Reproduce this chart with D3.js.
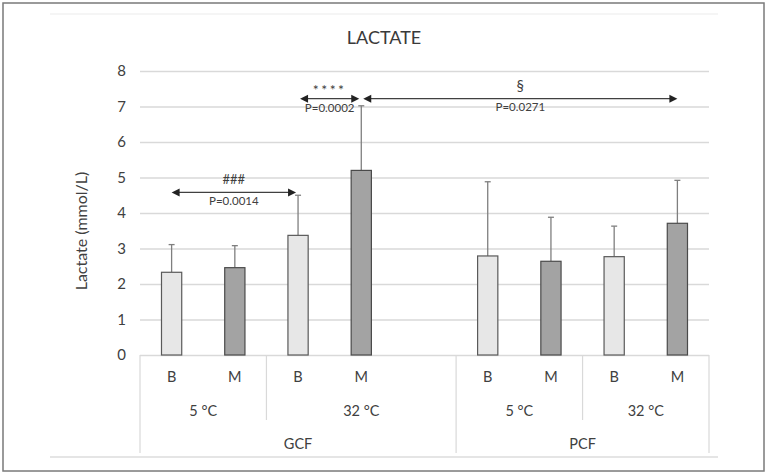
<!DOCTYPE html>
<html>
<head>
<meta charset="utf-8">
<script src="https://cdn.jsdelivr.net/npm/d3@7"></script>
<style>
  body { margin: 0; background: #fff; }
  svg { display: block; font-family: Lato, "Open Sans", sans-serif; }
</style>
</head>
<body>
<svg width="768" height="474"></svg>
<script>
// groups along the x axis (one empty slot after the GCF group)
var conditions = ["GCF", "PCF"];
var temps = ["5 °C", "32 °C"];
var samples = ["B", "M"];

// lactate means and upper SD, in bar order GCF 5B,5M,32B,32M, PCF 5B,5M,32B,32M
var means = [2.33, 2.46, 3.37, 5.20, 2.79, 2.64, 2.77, 3.71];
var sds   = [0.78, 0.62, 1.13, 1.82, 2.09, 1.24, 0.86, 1.21];

var yTicks = [0, 1, 2, 3, 4, 5, 6, 7, 8];

// significance arrows: from bar index, to bar index, height, symbol, p value
var compFrom  = [0, 2, 3];
var compTo    = [2, 3, 7];
var compLevel = [4.58, 7.22, 7.22];
var compSym   = ["###", "****", "§"];
var compP     = ["P=0.0014", "P=0.0002", "P=0.0271"];

var svg = d3.select("svg");

// build bar list + slot keys
var bars = [];
var slots = [];
conditions.forEach(function(c, ci) {
    temps.forEach(function(t) {
        samples.forEach(function(s) {
            var key = c + "|" + t + "|" + s;
            slots.push(key);
            bars.push({key: key, cond: c, temp: t, sample: s,
                       mean: means[bars.length], sd: sds[bars.length]});
        });
    });
    if (ci < conditions.length - 1) slots.push("gap" + ci);
});

var x = d3.scaleBand().domain(slots).range([140, 709]).padding(0);
var y = d3.scaleLinear().domain([0, 8]).range([355, 71]);
var bw = x.bandwidth() * 0.32;
var cx = function(k) { return x(k) + x.bandwidth() / 2; };

// outer frame and faint rules
svg.append("rect")
    .attr("x", 3).attr("y", 3).attr("width", 761).attr("height", 468)
    .attr("fill", "none").attr("stroke", "#7a7a7a").attr("stroke-width", 1.5);
svg.append("line").attr("x1", 50).attr("x2", 718).attr("y1", 14).attr("y2", 14)
    .attr("stroke", "#f2f2f2").attr("stroke-width", 1.5);
svg.append("line").attr("x1", 50).attr("x2", 718).attr("y1", 457).attr("y2", 457)
    .attr("stroke", "#dcdcdc").attr("stroke-width", 1.5);

// title
svg.append("text").attr("x", 384).attr("y", 44)
    .attr("text-anchor", "middle").attr("font-size", 18).attr("fill", "#3a3a3a")
    .text("LACTATE");

// gridlines + y axis
var yAxis = d3.axisLeft(y).tickValues(yTicks).tickSize(-(709 - 140)).tickPadding(14);
var gy = svg.append("g").attr("transform", "translate(140,0)").call(yAxis);
gy.select(".domain").remove();
gy.selectAll(".tick line").attr("stroke", "#d9d9d9").attr("stroke-width", 1.3);
gy.selectAll(".tick text").attr("font-size", 15).attr("fill", "#404040")
    .attr("font-family", "Lato, 'Open Sans', sans-serif");

svg.append("text")
    .attr("transform", "translate(87,231) rotate(-90)")
    .attr("text-anchor", "middle").attr("font-size", 16).attr("fill", "#404040")
    .text("Lactate (mmol/L)");

// error bars (upper only)
var eb = svg.append("g").selectAll("g").data(bars).enter().append("g");
eb.append("line")
    .attr("x1", d => cx(d.key)).attr("x2", d => cx(d.key))
    .attr("y1", d => y(d.mean)).attr("y2", d => y(d.mean + d.sd))
    .attr("stroke", "#7f7f7f").attr("stroke-width", 1.3);
eb.append("line")
    .attr("x1", d => cx(d.key) - 3).attr("x2", d => cx(d.key) + 3)
    .attr("y1", d => y(d.mean + d.sd)).attr("y2", d => y(d.mean + d.sd))
    .attr("stroke", "#7f7f7f").attr("stroke-width", 1.3);

// bars
svg.append("g").selectAll("rect").data(bars).enter().append("rect")
    .attr("x", d => cx(d.key) - bw / 2)
    .attr("y", d => y(d.mean))
    .attr("width", bw)
    .attr("height", d => y(0) - y(d.mean))
    .attr("fill", d => d.sample == "B" ? "#e7e7e7" : "#a3a3a3")
    .attr("stroke", d => d.sample == "B" ? "#5a5a5a" : "#4a4a4a")
    .attr("stroke-width", 1.2);

// category table under axis
var table = svg.append("g");
var tline = function(x1, y1, x2, y2) {
    table.append("line").attr("x1", x1).attr("y1", y1).attr("x2", x2).attr("y2", y2)
        .attr("stroke", "#d9d9d9").attr("stroke-width", 1.2);
};
var rowY = [377, 411, 444];
var label = function(xx, yy, t) {
    table.append("text").attr("x", xx).attr("y", yy).attr("dy", "0.35em")
        .attr("text-anchor", "middle").attr("font-size", 14.5).attr("fill", "#404040")
        .text(t);
};

bars.forEach(function(d) { label(cx(d.key), rowY[0], d.sample); });

tline(x.range()[0], y(0), x.range()[0], 453);
conditions.forEach(function(c, ci) {
    var cb = bars.filter(d => d.cond == c);
    var left = x(cb[0].key);
    var lastIdx = slots.indexOf(cb[cb.length - 1].key);
    // the empty slot after a group belongs to that group
    var right = (ci < conditions.length - 1) ? x(slots[lastIdx + 1]) + x.bandwidth()
                                             : x(cb[cb.length - 1].key) + x.bandwidth();
    tline(right, y(0), right, 453);
    label((left + right) / 2, rowY[2], c);
    temps.forEach(function(t, ti) {
        var tb = cb.filter(d => d.temp == t);
        var tl = x(tb[0].key);
        var tr = (ti == temps.length - 1) ? right : x(tb[tb.length - 1].key) + x.bandwidth();
        if (ti < temps.length - 1) tline(tr, y(0), tr, 420);
        label((tl + tr) / 2, rowY[1], t);
    });
});

// significance arrows
var ann = svg.append("g");
compFrom.forEach(function(f, i) {
    var x1 = cx(bars[f].key), x2 = cx(bars[compTo[i]].key);
    if (compFrom.indexOf(compTo[i]) >= 0) x2 -= 2;
    if (compTo.indexOf(f) >= 0) x1 += 2;
    var yy = y(compLevel[i]);
    ann.append("line").attr("x1", x1 + 6).attr("x2", x2 - 6).attr("y1", yy).attr("y2", yy)
        .attr("stroke", "#404040").attr("stroke-width", 1.2);
    ann.append("path")
        .attr("d", "M" + x1 + "," + yy + "l8,-4v8z").attr("fill", "#222");
    ann.append("path")
        .attr("d", "M" + x2 + "," + yy + "l-8,-4v8z").attr("fill", "#222");
    var mx = (x1 + x2) / 2;
    var sym = ann.append("text").attr("x", mx).attr("y", yy - 8)
        .attr("text-anchor", "middle").attr("fill", "#404040").text(compSym[i]);
    if (compSym[i] == "****") sym.attr("font-size", 14).attr("letter-spacing", 2.5).attr("dy", 4);
    else if (compSym[i] == "§") sym.attr("font-size", 15);
    else sym.attr("font-size", 13);
    ann.append("text").attr("x", mx).attr("y", yy + (compSym[i] == "§" ? 12 : 13))
        .attr("text-anchor", "middle").attr("font-size", 11.5)
        .attr("fill", "#404040").text(compP[i]);
});
</script>
</body>
</html>
